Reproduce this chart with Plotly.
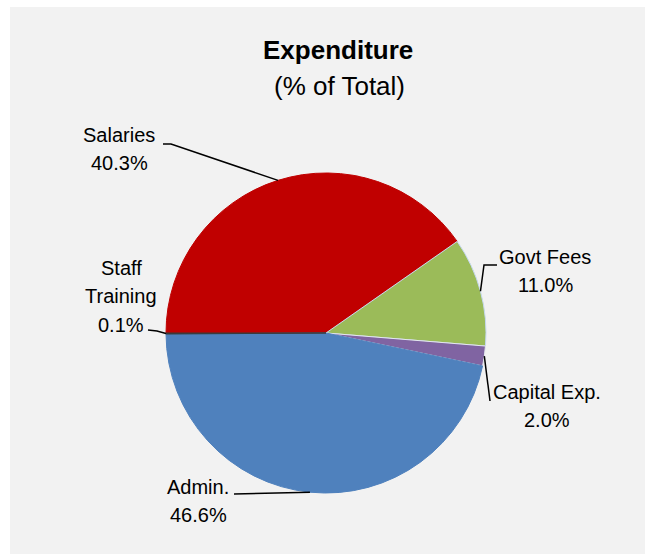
import math
import plotly.graph_objects as go

# ---- data ----
categories = ["Salaries", "Govt Fees", "Capital Exp.", "Admin.", "Staff Training"]
label_lines = [["Salaries"], ["Govt Fees"], ["Capital Exp."], ["Admin."], ["Staff", "Training"]]
values = [40.3, 11.0, 2.0, 46.6, 0.1]
colors = ["#C00000", "#9BBB59", "#8064A2", "#4F81BD", "#3A3A3A"]
edge_colors = ["#C00000", "#C6D9F1", "#E4E8EE", "#4F81BD", "#3A3A3A"]

W, H = 645, 554
CX, CY, R = 326, 333, 160  # pie centre / radius in pixels


def px(x):
    return x / W


def py(y):
    return 1 - y / H


FONT = "Liberation Sans, Arial, sans-serif"
LINE_GAP = 28.5

fig = go.Figure()
fig.add_trace(go.Pie(
    labels=categories,
    values=values,
    sort=False,
    direction="clockwise",
    rotation=270,
    marker=dict(colors=colors, line=dict(color=edge_colors, width=1)),
    textinfo="none",
    hoverinfo="label+percent",
    showlegend=False,
    domain=dict(x=[px(CX - R), px(CX + R)], y=[py(CY + R), py(CY - R)]),
))

# anchors on the pie edge, from the data (mid angle of each slice)
total = sum(values)
anchors = []
cum = 0.0
for v in values:
    theta = math.radians(180 - 360 * (cum + v / 2) / total)
    anchors.append((CX + R * math.cos(theta), CY - R * math.sin(theta)))
    cum += v

# label placement (layout): text block centre and leader-line bend points
label_pos = [(119, 149), (545, 271), (547, 406), (198, 501), (121, 296)]
leader_pts = [
    [(163, 144), (171, 144)],
    [(497, 265), (484, 265)],
    [(490, 401)],
    [(234, 494)],
    [(148, 330), (157, 331)],
]

shapes = [dict(type="rect", xref="paper", yref="paper", x0=px(10), x1=1, y0=0, y1=py(7),
               fillcolor="#F2F2F2", line=dict(width=0), layer="below")]

annotations = []
for i, name in enumerate(categories):
    pts = leader_pts[i] + [anchors[i]]
    path = "M " + " L ".join(f"{px(x):.5f},{py(y):.5f}" for x, y in pts)
    shapes.append(dict(type="path", xref="paper", yref="paper", path=path,
                       line=dict(color="black", width=1.5)))
    lines = label_lines[i] + [f"{values[i]:.1f}%"]
    lx, ly = label_pos[i]
    n = len(lines)
    for k, t in enumerate(lines):
        yk = ly + (k - (n - 1) / 2) * LINE_GAP
        annotations.append(dict(x=px(lx), y=py(yk), xref="paper", yref="paper", text=t,
                                showarrow=False, xanchor="center", yanchor="middle", align="center",
                                font=dict(family=FONT, size=20, color="black")))

annotations.append(dict(x=px(338), y=py(50), xref="paper", yref="paper",
                        text="<b>Expenditure</b>", showarrow=False, xanchor="center", yanchor="middle",
                        font=dict(family=FONT, size=26, color="black")))
annotations.append(dict(x=px(339), y=py(86), xref="paper", yref="paper",
                        text="(% of Total)", showarrow=False, xanchor="center", yanchor="middle",
                        font=dict(family=FONT, size=26, color="black")))

fig.update_layout(
    width=W, height=H,
    margin=dict(l=0, r=0, t=0, b=0),
    paper_bgcolor="white",
    plot_bgcolor="white",
    shapes=shapes,
    annotations=annotations,
)

fig.write_html("out.html", config={"displayModeBar": False},
               post_script="document.body.style.margin='0px';")
